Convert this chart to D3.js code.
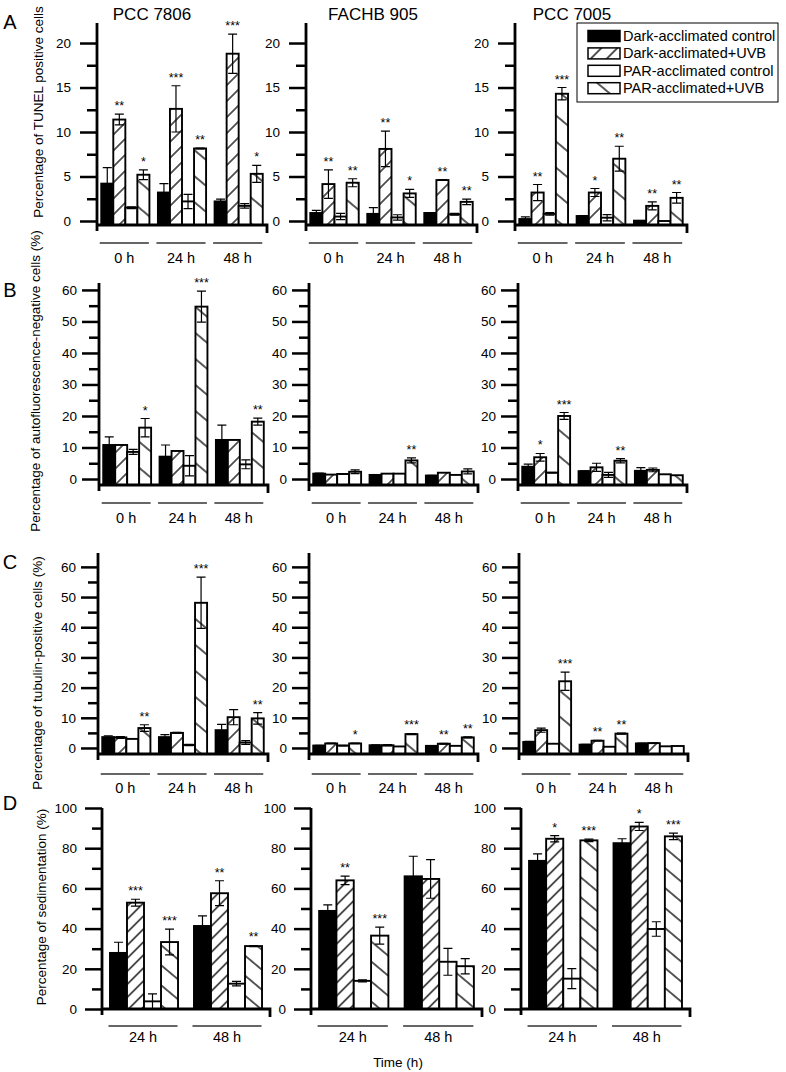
<!DOCTYPE html>
<html>
<head>
<meta charset="utf-8">
<script src="https://cdn.jsdelivr.net/npm/d3@7"></script>
<style>
  body { margin: 0; background: #fff; }
  svg { font-family: "Liberation Sans", Arial, sans-serif; }
</style>
</head>
<body>
<div id="chart"></div>
<script>
// series order used in every panel
const treatments = ["Dark-acclimated control", "Dark-acclimated+UVB", "PAR-acclimated control", "PAR-acclimated+UVB"];
const strains = ["PCC 7806", "FACHB 905", "PCC 7005"];
const timesABC = ["0 h", "24 h", "48 h"];
const timesD = ["24 h", "48 h"];

// tick labels
const ticksA = [0, 5, 10, 15, 20];
const minorA = [2.5, 7.5, 12.5, 17.5];
const ticksBC = [0, 10, 20, 30, 40, 50, 60];
const minorBC = [5, 15, 25, 35, 45, 55];
const ticksD = [0, 20, 40, 60, 80, 100];
const minorD = [10, 30, 50, 70, 90];

// A: TUNEL positive cells, [strain][time][treatment]
const tunelMean = [
  [[4.2, 11.4, 1.5, 5.2], [3.2, 12.6, 2.2, 8.15], [2.2, 18.8, 1.7, 5.3]],
  [[0.9, 4.15, 0.5, 4.3], [0.8, 8.1, 0.4, 3.1], [0.9, 4.6, 0.75, 2.15]],
  [[0.22, 3.2, 0.8, 14.3], [0.56, 3.2, 0.37, 7.0], [0.04, 1.7, 0.0, 2.6]]
];
const tunelErr = [
  [[1.8, 0.6, 0.1, 0.55], [1.0, 2.6, 0.8, 0.05], [0.25, 2.2, 0.25, 0.95]],
  [[0.3, 1.6, 0.35, 0.45], [0.7, 2.0, 0.3, 0.45], [0.05, 0.05, 0.1, 0.3]],
  [[0.25, 0.9, 0.15, 0.7], [0.05, 0.45, 0.35, 1.4], [0, 0.45, 0, 0.6]]
];
const tunelSig = [
  [["", "**", "", "*"], ["", "***", "", "**"], ["", "***", "", "*"]],
  [["", "**", "", "**"], ["", "**", "", "*"], ["", "**", "", "**"]],
  [["", "**", "", "***"], ["", "*", "", "**"], ["", "**", "", "**"]]
];

// B: autofluorescence-negative cells (%)
const autoMean = [
  [[10.8, 10.8, 8.6, 16.3], [7.1, 8.9, 4.2, 54.7], [12.4, 12.4, 4.65, 18.2]],
  [[1.7, 1.4, 1.6, 2.3], [1.3, 1.7, 1.7, 5.9], [1.1, 2.0, 1.3, 2.4]],
  [[3.9, 6.9, 2.0, 20.0], [2.5, 3.7, 1.3, 5.8], [2.6, 2.9, 1.5, 1.2]]
];
const autoErr = [
  [[2.6, 0, 0.8, 2.9], [3.7, 0, 3.2, 4.9], [4.7, 0, 1.4, 1.1]],
  [[0.2, 0, 0.1, 0.6], [0.1, 0, 0, 0.8], [0.1, 0, 0, 0.8]],
  [[0.8, 1.2, 0.1, 1.1], [0.1, 1.3, 0.8, 0.7], [1.0, 0.6, 0, 0]]
];
const autoSig = [
  [["", "", "", "*"], ["", "", "", "***"], ["", "", "", "**"]],
  [["", "", "", ""], ["", "", "", "**"], ["", "", "", ""]],
  [["", "*", "", "***"], ["", "", "", "**"], ["", "", "", ""]]
];

// C: tubulin-positive cells (%)
const tubMean = [
  [[3.6, 3.5, 3.0, 6.6], [3.6, 5.0, 1.0, 48.1], [5.9, 10.2, 1.8, 9.8]],
  [[0.8, 1.5, 0.8, 1.5], [0.9, 0.9, 0.5, 4.6], [0.7, 1.4, 0.7, 3.5]],
  [[2.0, 5.9, 1.4, 22.1], [1.1, 2.4, 0.4, 4.75], [1.5, 1.6, 0.55, 0.65]]
];
const tubErr = [
  [[0.4, 0.3, 0, 1.1], [0.8, 0.2, 0.2, 8.5], [1.9, 2.5, 0.6, 1.9]],
  [[0.1, 0.1, 0.1, 0.1], [0.1, 0.2, 0, 0.2], [0, 0.1, 0, 0.2]],
  [[0.2, 0.7, 0, 3.0], [0.1, 0.1, 0, 0.2], [0.1, 0.1, 0, 0]]
];
const tubSig = [
  [["", "", "", "**"], ["", "", "", "***"], ["", "", "", "**"]],
  [["", "", "", "*"], ["", "", "", "***"], ["", "**", "", "**"]],
  [["", "", "", "***"], ["", "**", "", "**"], ["", "", "", ""]]
];

// D: sedimentation (%)
const sedMean = [
  [[27.9, 52.9, 3.8, 33.3], [41.3, 57.6, 12.6, 31.3]],
  [[48.8, 64.0, 14.0, 36.5], [66.0, 64.7, 23.5, 21.3]],
  [[73.7, 84.7, 15.1, 83.9], [82.5, 90.8, 39.8, 85.9]]
];
const sedErr = [
  [[5.3, 1.7, 3.7, 6.4], [5.0, 6.2, 1.1, 0.3]],
  [[3.0, 2.1, 0.5, 4.2], [10.0, 9.6, 6.7, 3.8]],
  [[3.5, 1.6, 5.0, 0.6], [2.2, 2.0, 3.6, 1.6]]
];
const sedSig = [
  [["", "***", "", "***"], ["", "**", "", "**"]],
  [["", "**", "", "***"], ["", "", "", ""]],
  [["", "*", "", "***"], ["", "*", "", "***"]]
];

// layout of the four rows of panels
const rows = [
  { letter: "A", mean: tunelMean, err: tunelErr, sig: tunelSig, times: timesABC,
    ticks: ticksA, minor: minorA, yLo: -0.45, yHi: 22.25, top: 23, base: 225,
    cols: [[97, 267], [306, 477], [515, 687]], pad: 0.15, tickPad: 9,
    ulY: 243, lblY: 258, label: "Percentage of TUNEL positive cells", labelX: 38, labelY: 112, letterY: 22,
    fwd: 16, back: 26 },
  { letter: "B", mean: autoMean, err: autoErr, sig: autoSig, times: timesABC,
    ticks: ticksBC, minor: minorBC, yLo: -1.9, yHi: 62.2, top: 283, base: 485,
    cols: [[99, 268], [309, 478], [518, 687]], pad: 0.15, tickPad: 5,
    ulY: 503, lblY: 518, label: "Percentage of autofluorescence-negative cells (%)", labelX: 35, labelY: 381, letterY: 290,
    fwd: 16, back: 26 },
  { letter: "C", mean: tubMean, err: tubErr, sig: tubSig, times: timesABC,
    ticks: ticksBC, minor: minorBC, yLo: -2.0, yHi: 64.6, top: 553, base: 754,
    cols: [[98, 268], [309, 478], [519, 688]], pad: 0.15, tickPad: 5,
    ulY: 774, lblY: 788, label: "Percentage of tubulin-positive cells (%)", labelX: 37, labelY: 673, letterY: 562,
    fwd: 16, back: 26 },
  { letter: "D", mean: sedMean, err: sedErr, sig: sedSig, times: timesD,
    ticks: ticksD, minor: minorD, yLo: 0, yHi: 100, top: 808, base: 1009,
    cols: [[102, 270], [311, 482], [521, 690]], pad: 0.19, tickPad: 8,
    ulY: 1026, lblY: 1037, label: "Percentage of sedimentation (%)", labelX: 41, labelY: 907, letterY: 803,
    fwd: 13, back: 20 }
];

const titleX = [152, 373, 572];

const svg = d3.select("#chart").append("svg")
  .attr("width", 786)
  .attr("height", 1072);

const defs = svg.append("defs");

// hatch patterns: forward "/" and backward "\" diagonals
function makeHatch(id, spacing, angle) {
  const p = defs.append("pattern")
    .attr("id", id)
    .attr("patternUnits", "userSpaceOnUse")
    .attr("width", spacing)
    .attr("height", 10)
    .attr("patternTransform", `rotate(${angle})`);
  p.append("rect").attr("width", spacing).attr("height", 10).attr("fill", "#fff");
  p.append("line")
    .attr("x1", spacing / 2).attr("x2", spacing / 2)
    .attr("y1", 0).attr("y2", 10)
    .attr("stroke", "#000").attr("stroke-width", 1.3);
}
rows.forEach(r => {
  makeHatch(`fwd${r.letter}`, r.fwd * Math.cos(Math.PI / 4), 45);
  makeHatch(`back${r.letter}`, r.back * Math.cos(40 * Math.PI / 180), -50);
});

function fillFor(k, letter) {
  return ["#000", `url(#fwd${letter})`, "#fff", `url(#back${letter})`][k];
}

function drawPanel(row, ci) {
  const [x0, x1] = row.cols[ci];
  const g = svg.append("g");

  const yScale = d3.scaleLinear()
    .domain([row.yLo, row.yHi])
    .range([row.base, row.top]);
  const xScale = d3.scaleBand()
    .domain(row.times)
    .range([x0, x1])
    .paddingInner(row.pad)
    .paddingOuter(row.pad / 2);
  const xSub = d3.scaleBand()
    .domain(treatments)
    .range([0, xScale.bandwidth()]);

  const data = row.times.flatMap((t, ti) => treatments.map((tr, k) => ({
    t, tr, k,
    v: row.mean[ci][ti][k],
    e: row.err[ci][ti][k],
    s: row.sig[ci][ti][k]
  })));

  const cx = d => xScale(d.t) + xSub(d.tr) + xSub.bandwidth() / 2;

  // bars
  g.selectAll("rect.bar")
    .data(data)
    .join("rect")
      .attr("class", "bar")
      .attr("x", d => xScale(d.t) + xSub(d.tr))
      .attr("y", d => yScale(d.v))
      .attr("width", xSub.bandwidth())
      .attr("height", d => yScale(row.yLo) - yScale(d.v))
      .attr("fill", d => fillFor(d.k, row.letter))
      .attr("stroke", "#000")
      .attr("stroke-width", 1.9);

  // error bars
  const withErr = data.filter(d => d.e > 0);
  g.selectAll("path.err")
    .data(withErr)
    .join("path")
      .attr("class", "err")
      .attr("d", d => {
        const c = cx(d), hi = yScale(d.v + d.e), lo = yScale(Math.max(d.v - d.e, row.yLo));
        return `M${c},${hi}V${lo}M${c - 4.5},${hi}H${c + 4.5}M${c - 4.5},${lo}H${c + 4.5}`;
      })
      .attr("fill", "none")
      .attr("stroke", "#000")
      .attr("stroke-width", 1.2);

  // significance stars
  g.selectAll("text.sig")
    .data(data.filter(d => d.s))
    .join("text")
      .attr("class", "sig")
      .attr("x", cx)
      .attr("y", d => yScale(d.v + d.e) - 4)
      .attr("text-anchor", "middle")
      .attr("font-size", 12.5)
      .text(d => d.s);

  // y axis ticks
  const minorAxis = d3.axisLeft(yScale).tickValues(row.minor).tickSize(10).tickFormat("");
  const majorAxis = d3.axisLeft(yScale).tickValues(row.ticks).tickSize(17).tickPadding(row.tickPad);

  g.append("g")
    .attr("transform", `translate(${x0},0)`)
    .call(minorAxis)
    .call(a => a.select(".domain").remove())
    .call(a => a.selectAll("line").attr("stroke-width", 2.5));

  g.append("g")
    .attr("transform", `translate(${x0},0)`)
    .call(majorAxis)
    .call(a => a.select(".domain").remove())
    .call(a => a.selectAll("line").attr("stroke-width", 2.5))
    .call(a => a.selectAll("text")
      .attr("font-size", 13.5)
      .attr("font-family", "Liberation Sans, Arial, sans-serif")
      .attr("fill", "#000"));

  // axis lines
  const axisPath = d3.path();
  axisPath.moveTo(x0, row.top);
  axisPath.lineTo(x0, row.base + 6);
  axisPath.moveTo(x0, row.base);
  axisPath.lineTo(x1, row.base);
  axisPath.lineTo(x1, row.base + 8);
  g.append("path")
    .attr("d", axisPath.toString())
    .attr("fill", "none")
    .attr("stroke", "#000")
    .attr("stroke-width", 2.8);

  // time group underlines and labels
  g.selectAll("line.under")
    .data(row.times)
    .join("line")
      .attr("class", "under")
      .attr("x1", t => xScale(t) - 1.5)
      .attr("x2", t => xScale(t) + xScale.bandwidth() - 0.5)
      .attr("y1", row.ulY).attr("y2", row.ulY)
      .attr("stroke", "#333")
      .attr("stroke-width", 1.5);

  g.selectAll("text.time")
    .data(row.times)
    .join("text")
      .attr("class", "time")
      .attr("x", t => xScale(t) + xScale.bandwidth() / 2 - 1)
      .attr("y", row.lblY)
      .attr("dy", "0.35em")
      .attr("text-anchor", "middle")
      .attr("font-size", 14.5)
      .text(t => t);
}

rows.forEach(row => {
  strains.forEach((s, ci) => drawPanel(row, ci));

  svg.append("text")
    .attr("x", 10).attr("y", row.letterY)
    .attr("dy", "0.35em")
    .attr("text-anchor", "middle")
    .attr("font-size", 20)
    .text(row.letter);

  svg.append("text")
    .attr("transform", `translate(${row.labelX},${row.labelY}) rotate(-90)`)
    .attr("dy", "0.35em")
    .attr("text-anchor", "middle")
    .attr("font-size", 13.5)
    .text(row.label);
});

// strain titles
svg.selectAll("text.title")
  .data(strains)
  .join("text")
    .attr("class", "title")
    .attr("x", (d, i) => titleX[i])
    .attr("y", 14)
    .attr("dy", "0.35em")
    .attr("text-anchor", "middle")
    .attr("font-size", 17)
    .text(d => d);

// x axis title
svg.append("text")
  .attr("x", 398).attr("y", 1062)
  .attr("dy", "0.35em")
  .attr("text-anchor", "middle")
  .attr("font-size", 13.5)
  .text("Time (h)");

// legend
const legend = svg.append("g").attr("transform", "translate(577,23)");
legend.append("rect")
  .attr("width", 201).attr("height", 79)
  .attr("fill", "#fff").attr("stroke", "#000").attr("stroke-width", 1);
const items = legend.selectAll("g.item")
  .data(treatments)
  .join("g")
    .attr("class", "item")
    .attr("transform", (d, i) => `translate(11,${13 + i * 17.4})`);
items.append("rect")
  .attr("y", -5.5).attr("width", 32).attr("height", 11)
  .attr("fill", (d, i) => fillFor(i, "A"))
  .attr("stroke", "#000").attr("stroke-width", 1.5);
items.append("text")
  .attr("x", 35).attr("dy", "0.35em")
  .attr("font-size", 14.5)
  .text(d => d);
</script>
</body>
</html>
